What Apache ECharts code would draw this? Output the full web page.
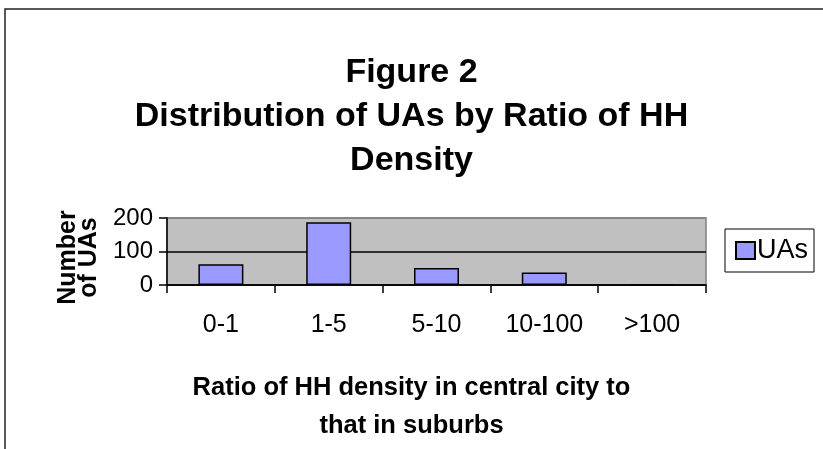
<!DOCTYPE html>
<html lang="en">
<head>
    <meta charset="UTF-8">
    <title>Figure 2</title>
    <script src="https://cdn.jsdelivr.net/npm/echarts@6/dist/echarts.min.js"></script>
    <style>
        html, body { margin: 0; padding: 0; background: #fff; }
        #main { width: 823px; height: 449px; }
    </style>
</head>
<body>
<div id="main"></div>
<script type="text/javascript">
    // data
    var categories = ['0-1', '1-5', '5-10', '10-100', '>100'];
    var uaCounts = [62, 187, 51, 37, 0];
    var yTicks = [0, 100, 200];

    var font = '"Liberation Sans", Arial, sans-serif';
    var myChart = echarts.init(document.getElementById('main'));

    var option = {
        textStyle: { fontFamily: font, color: '#000' },
        title: {
            text: 'Figure 2\nDistribution of UAs by Ratio of HH\nDensity',
            left: 'center',
            top: 46,
            textStyle: { fontFamily: font, fontSize: 34, fontWeight: 'bold', lineHeight: 44, color: '#000' }
        },
        graphic: [{
            type: 'rect',
            shape: { x: 5, y: 9, width: 900, height: 500 },
            style: { fill: 'none', stroke: '#222', lineWidth: 1.5 },
            silent: true
        }],
        legend: {
            data: ['UAs'],
            left: 725,
            top: 229,
            orient: 'vertical',
            borderColor: '#000',
            borderWidth: 1,
            padding: [8, 6, 8, 10],
            itemWidth: 19,
            itemHeight: 17,
            itemGap: 4,
            icon: 'rect',
            textStyle: { fontFamily: font, fontSize: 27, color: '#000', padding: [0, 0, 0, -3] }
        },
        grid: {
            left: 167,
            right: 117,
            top: 218,
            bottom: 164,
            show: true,
            backgroundColor: '#c0c0c0',
            borderColor: '#808080',
            borderWidth: 1.5
        },
        xAxis: {
            type: 'category',
            data: categories,
            name: 'Ratio of HH density in central city to\nthat in suburbs',
            nameLocation: 'middle',
            nameGap: 84,
            // the name is centred on the whole chart, not on the plot
            nameTextStyle: { fontFamily: font, fontSize: 25.5, fontWeight: 'bold', lineHeight: 38, color: '#000', padding: [0, 50, 0, 0] },
            axisLine: { lineStyle: { color: '#000', width: 1.5 } },
            axisTick: { show: true, length: 8, lineStyle: { color: '#000', width: 1.5 } },
            axisLabel: { fontFamily: font, fontSize: 25, color: '#000', margin: 28 }
        },
        yAxis: {
            type: 'value',
            min: yTicks[0],
            max: yTicks[yTicks.length - 1],
            interval: 100,
            name: 'Number\nof UAs',
            nameLocation: 'middle',
            nameRotate: 90,
            nameGap: 33,
            nameTextStyle: { fontFamily: font, fontSize: 25, fontWeight: 'bold', lineHeight: 21, color: '#000', padding: [0, 12, 0, 0] },
            axisLine: { show: true, lineStyle: { color: '#000', width: 1.5 } },
            axisTick: { show: true, length: 8, lineStyle: { color: '#000', width: 1.5 } },
            axisLabel: { fontFamily: font, fontSize: 24, color: '#000', margin: 14 },
            splitLine: { show: true, lineStyle: { color: ['#000', '#000', '#808080'], width: 1.5 } }
        },
        series: [{
            name: 'UAs',
            type: 'bar',
            data: uaCounts,
            barWidth: 45,
            itemStyle: { color: '#9999ff', borderColor: '#000', borderWidth: 1.5 }
        }]
    };
    myChart.setOption(option);
</script>
</body>
</html>
